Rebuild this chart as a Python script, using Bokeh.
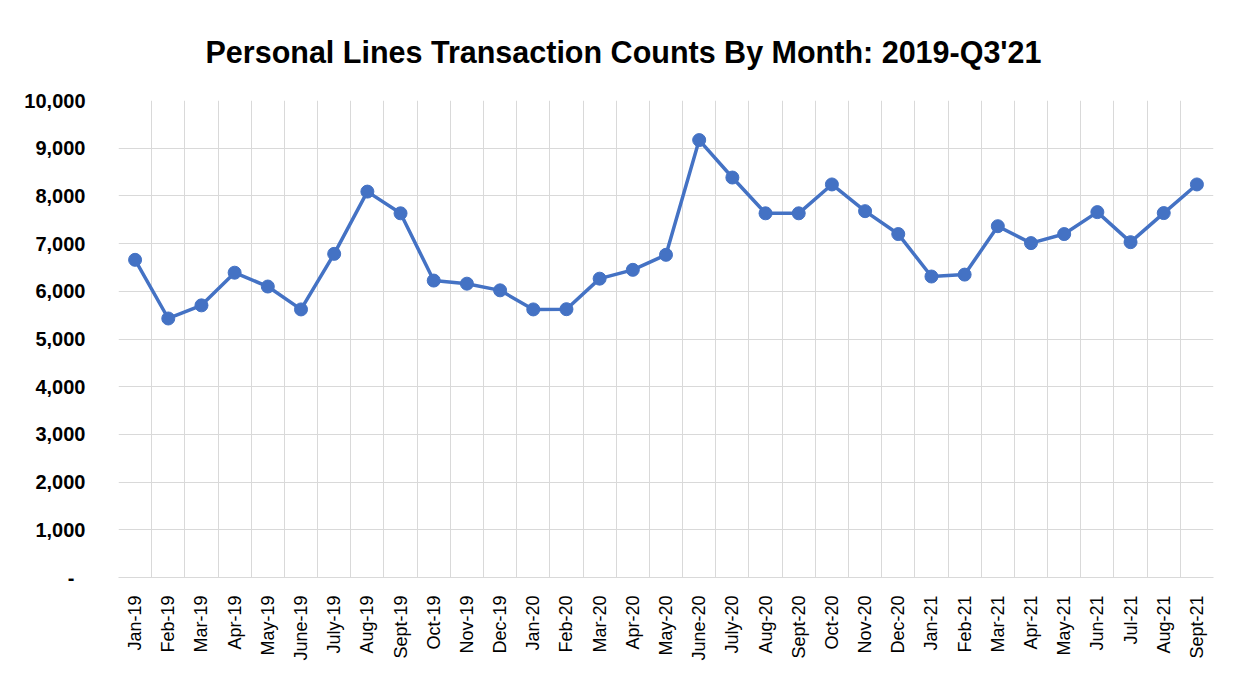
import math
from bokeh.plotting import figure
from bokeh.models import FixedTicker, ColumnDataSource
from bokeh.embed import file_html
from bokeh.resources import INLINE

months = ["Jan-19", "Feb-19", "Mar-19", "Apr-19", "May-19", "June-19", "July-19", "Aug-19",
          "Sept-19", "Oct-19", "Nov-19", "Dec-19", "Jan-20", "Feb-20", "Mar-20", "Apr-20",
          "May-20", "June-20", "July-20", "Aug-20", "Sept-20", "Oct-20", "Nov-20", "Dec-20",
          "Jan-21", "Feb-21", "Mar-21", "Apr-21", "May-21", "Jun-21", "Jul-21", "Aug-21", "Sept-21"]
counts = [6660, 5430, 5705, 6390, 6100, 5620, 6785, 8090,
          7635, 6225, 6160, 6020, 5620, 5625, 6265, 6450,
          6765, 9170, 8385, 7635, 7635, 8240, 7680, 7200,
          6310, 6350, 7365, 7010, 7200, 7660, 7030, 7640, 8240]
y_ticks = [0, 1000, 2000, 3000, 4000, 5000, 6000, 7000, 8000, 9000, 10000]
y_tick_labels = ["-\u00a0\u00a0", "1,000", "2,000", "3,000", "4,000", "5,000", "6,000",
                 "7,000", "8,000", "9,000", "10,000"]
title_text = "Personal Lines Transaction Counts By Month: 2019-Q3'21"

n = len(months)
xs = list(range(n))
src = ColumnDataSource(data=dict(x=xs, y=counts, month=months))

p = figure(width=1219, height=663, output_backend="svg", toolbar_location=None,
           x_range=(-0.5, n - 0.5), y_range=(0, 10000),
           min_border_left=118, min_border_right=6, min_border_top=100, min_border_bottom=81,
           title=title_text)
p.background_fill_color = "white"
p.border_fill_color = "white"
p.outline_line_color = None

p.title.align = "left"
p.title.offset = 87
p.title.standoff = 64
p.title.text_font = "Liberation Sans"
p.title.text_font_style = "bold"
p.title.text_font_size = "30.5px"
p.title.text_color = "#000000"

line_color = "#4472C4"
p.line("x", "y", source=src, line_color=line_color, line_width=3.5)
p.scatter("x", "y", source=src, size=13, fill_color=line_color, line_color=line_color)

# x axis
p.xaxis.ticker = FixedTicker(ticks=xs)
p.xaxis.major_label_overrides = {i: m for i, m in enumerate(months)}
p.xaxis.major_label_orientation = math.pi / 2
p.xaxis.major_label_text_font = "Liberation Sans"
p.xaxis.major_label_text_font_size = "18px"
p.xaxis.major_label_text_color = "#000000"
p.xaxis.major_label_standoff = 12
p.xaxis.axis_line_color = "#d9d9d9"
p.xaxis.major_tick_line_color = None
p.xaxis.minor_tick_line_color = None

# y axis
p.yaxis.ticker = FixedTicker(ticks=y_ticks)
p.yaxis.major_label_overrides = {t: l for t, l in zip(y_ticks, y_tick_labels)}
p.yaxis.major_label_text_font = "Liberation Sans"
p.yaxis.major_label_text_font_style = "bold"
p.yaxis.major_label_text_font_size = "20px"
p.yaxis.major_label_text_color = "#000000"
p.yaxis.major_label_standoff = 27
p.yaxis.axis_line_color = None
p.yaxis.major_tick_line_color = None
p.yaxis.minor_tick_line_color = None

# grids
p.xgrid.ticker = FixedTicker(ticks=[i - 0.5 for i in range(n + 1)])
p.xgrid.grid_line_color = "#d9d9d9"
p.xgrid.grid_line_width = 1
p.ygrid.ticker = FixedTicker(ticks=y_ticks)
p.ygrid.grid_line_color = "#d9d9d9"
p.ygrid.grid_line_width = 1

open("out.html", "w").write(file_html(p, INLINE))
